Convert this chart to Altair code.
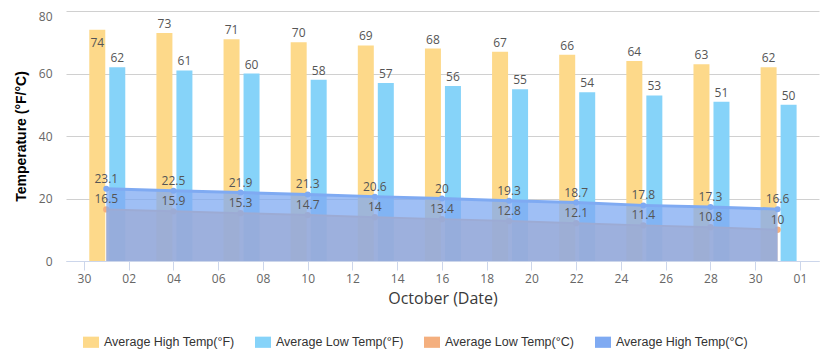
import altair as alt
import pandas as pd

# ---- data ----
dates = ["2023-10-01", "2023-10-04", "2023-10-07", "2023-10-10", "2023-10-13", "2023-10-16",
         "2023-10-19", "2023-10-22", "2023-10-25", "2023-10-28", "2023-10-31"]
high_f = [74, 73, 71, 70, 69, 68, 67, 66, 64, 63, 62]
low_f = [62, 61, 60, 58, 57, 56, 55, 54, 53, 51, 50]
low_c = [16.5, 15.9, 15.3, 14.7, 14, 13.4, 12.8, 12.1, 11.4, 10.8, 10]
high_c = [23.1, 22.5, 21.9, 21.3, 20.6, 20, 19.3, 18.7, 17.8, 17.3, 16.6]

series_names = ["Average High Temp(°F)", "Average Low Temp(°F)",
                "Average Low Temp(°C)", "Average High Temp(°C)"]
series_colors = ["#FDD98A", "#86D3F9", "#F4AF7E", "#7FAAF2"]

x_tick_dates = [(9, 30), (10, 2), (10, 4), (10, 6), (10, 8), (10, 10), (10, 12), (10, 14),
                (10, 16), (10, 18), (10, 20), (10, 22), (10, 24), (10, 26), (10, 28),
                (10, 30), (11, 1)]

HF, LF, LC, HC = series_names
rows = []
for name, vals in zip(series_names, [high_f, low_f, low_c, high_c]):
    for i, (d, v) in enumerate(zip(dates, vals)):
        rows.append({"date": d, "series": name, "value": v, "idx": i})
df = pd.DataFrame(rows)

AX_FONT = "Open Sans"

x_enc = alt.X(
    "date:T",
    title="October (Date)",
    scale=alt.Scale(
        type="utc",
        nice=False,
        padding=0,
        domain=[alt.DateTime(year=2023, month=9, date=29, hours=4, minutes=48, utc=True),
                alt.DateTime(year=2023, month=11, date=1, hours=20, minutes=24, utc=True)],
    ),
    axis=alt.Axis(
        values=[alt.DateTime(year=2023, month=m, date=d, utc=True) for m, d in x_tick_dates],
        format="%d",
        grid=False,
        domainColor="#ccd6eb",
        tickColor="#ccd6eb",
        tickSize=9,
        labelPadding=3,
        labelFont=AX_FONT,
        labelFontSize=12,
        labelColor="#666666",
        titleFont=AX_FONT,
        titleFontSize=16,
        titleFontWeight="normal",
        titleColor="#3a3a3a",
        titleBaseline="middle",
        titleY=37,
    ),
)

y_enc = alt.Y(
    "value:Q",
    title="Temperature (°F/°C)",
    scale=alt.Scale(domain=[0, 80]),
    axis=alt.Axis(
        values=[0, 20, 40, 60, 80],
        domain=False,
        ticks=False,
        gridColor="#d0d0d0",
        labelPadding=14,
        labelFont=AX_FONT,
        labelFontSize=12,
        labelColor="#666666",
        labelOffset={"condition": {"test": "datum.value == 80", "value": 5}, "value": 0},
        titleFont="Liberation Sans",
        titleFontSize=14,
        titleFontWeight="bold",
        titleColor="#000000",
        titleAngle=270,
        titleAlign="center",
        titleBaseline="middle",
        titleX=-45,
        titleY=125,
    ),
)

legend = alt.Legend(
    title=None,
    orient="none",
    legendX=17,
    legendY=323,
    direction="horizontal",
    columns=4,
    symbolType="M-1,-0.7H1V0.7H-1Z",
    symbolSize=256,
    symbolStrokeWidth=0,
    symbolOpacity=1,
    labelFont="Liberation Sans",
    labelFontSize=12.5,
    labelColor="#333333",
    labelOffset=5,
    columnPadding=20,
    labelLimit=400,
)

color_enc = alt.Color("series:N",
                      scale=alt.Scale(domain=series_names, range=series_colors),
                      legend=legend)

base = alt.Chart(df)

def sel(name):
    return base.transform_filter(alt.datum.series == name)

bars_hf = sel(HF).mark_bar(width=16, xOffset=-9).encode(x=x_enc, y=y_enc, color=color_enc)
bars_lf = sel(LF).mark_bar(width=16, xOffset=11).encode(x=x_enc, y=y_enc, color=color_enc)

lab_style = dict(font=AX_FONT, fontSize=12, color="#555555", baseline="alphabetic")
lab_hf = sel(HF).transform_filter(alt.datum.idx > 0).mark_text(dx=-9, dy=-5, **lab_style).encode(
    x=x_enc, y=y_enc, text="value:Q")
lab_hf0 = sel(HF).transform_filter(alt.datum.idx == 0).mark_text(dx=-9, dy=17, **lab_style).encode(
    x=x_enc, y=y_enc, text="value:Q")
lab_lf = sel(LF).mark_text(dx=11, dy=-5, **lab_style).encode(x=x_enc, y=y_enc, text="value:Q")

area_lc = sel(LC).mark_area(opacity=0.75).encode(x=x_enc, y=y_enc, color=color_enc)
line_lc = sel(LC).mark_line(color="#F4AF7E", strokeWidth=2).encode(x=x_enc, y=y_enc)
pts_lc = sel(LC).mark_circle(color="#F4AF7E", size=40, opacity=1).encode(x=x_enc, y=y_enc)

area_hc = sel(HC).mark_area(opacity=0.75).encode(x=x_enc, y=y_enc, color=color_enc)
line_hc = sel(HC).mark_line(color="#7FAAF2", strokeWidth=3).encode(x=x_enc, y=y_enc)
pts_hc = sel(HC).mark_circle(color="#7FAAF2", size=36, opacity=1).encode(x=x_enc, y=y_enc)

lab_lc = sel(LC).mark_text(dy=-6, **lab_style).encode(x=x_enc, y=y_enc, text="value:Q")
lab_hc = sel(HC).mark_text(dy=-6, **lab_style).encode(x=x_enc, y=y_enc, text="value:Q")

chart = alt.layer(
    bars_hf, bars_lf, lab_hf, lab_hf0, lab_lf,
    area_lc, line_lc, pts_lc,
    area_hc, line_hc, pts_hc,
    lab_lc, lab_hc,
).properties(
    width=753,
    height=250,
    autosize=alt.AutoSizeParams(type="none"),
    padding={"left": 58, "top": 3, "right": 3, "bottom": 93},
    background="white",
).configure_view(strokeWidth=0)

chart.save("out.html", embed_options={"renderer": "svg", "actions": False})
